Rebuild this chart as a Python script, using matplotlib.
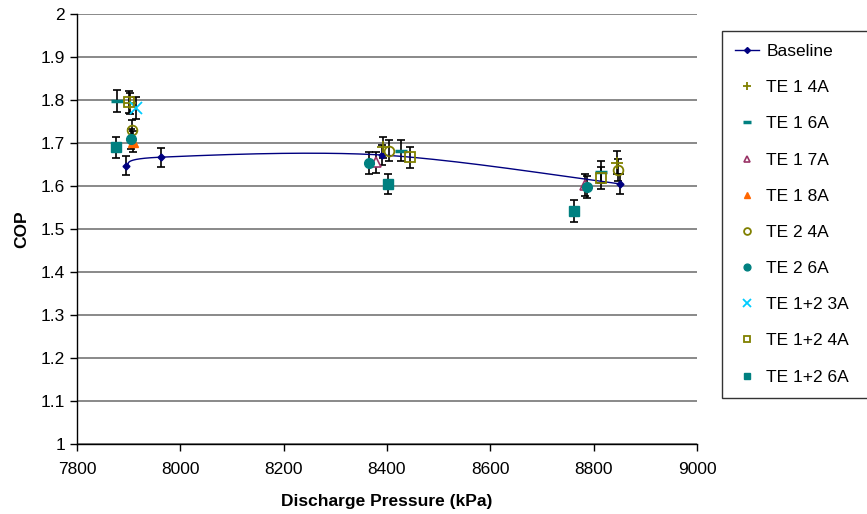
import numpy as np
import matplotlib
matplotlib.use("Agg")
import matplotlib.pyplot as plt
from matplotlib.ticker import FuncFormatter

plt.rcParams['font.family'] = ['Liberation Sans', 'DejaVu Sans']

# ---- data ----
base_x = [7895, 7962, 8391, 8850]
base_y = [1.647, 1.667, 1.672, 1.605]
base_err = [0.022, 0.022, 0.024, 0.023]

te1_4a_x = [7902, 8393, 8846]
te1_4a_y = [1.792, 1.690, 1.654]
te1_4a_err = [0.025, 0.025, 0.027]

te1_6a_x = [7877, 8428, 8814]
te1_6a_y = [1.798, 1.682, 1.633]
te1_6a_err = [0.026, 0.025, 0.025]

te1_7a_x = [8378, 8784]
te1_7a_y = [1.655, 1.602]
te1_7a_err = [0.025, 0.025]

te1_8a_x = [7909]
te1_8a_y = [1.703]
te1_8a_err = [0.025]

te2_4a_x = [7907, 8403, 8848]
te2_4a_y = [1.730, 1.682, 1.637]
te2_4a_err = [0.024, 0.025, 0.025]

te2_6a_x = [7904, 8366, 8788]
te2_6a_y = [1.709, 1.653, 1.598]
te2_6a_err = [0.024, 0.025, 0.025]

te12_3a_x = [7914]
te12_3a_y = [1.782]
te12_3a_err = [0.026]

te12_4a_x = [7901, 8445, 8814]
te12_4a_y = [1.795, 1.667, 1.619]
te12_4a_err = [0.025, 0.024, 0.025]

te12_6a_x = [7875, 8401, 8762]
te12_6a_y = [1.690, 1.605, 1.542]
te12_6a_err = [0.025, 0.024, 0.026]

y_ticks = [1, 1.1, 1.2, 1.3, 1.4, 1.5, 1.6, 1.7, 1.8, 1.9, 2]
x_ticks = [7800, 8000, 8200, 8400, 8600, 8800, 9000]


def smooth(xs, ys, n=60):
    """Excel-like smoothed line through points (Bezier, tension 1/6)."""
    P = np.column_stack([xs, ys]).astype(float)
    out = []
    m = len(P)
    t = np.linspace(0, 1, n)[:, None]
    for i in range(m - 1):
        p0 = P[i - 1] if i > 0 else P[i]
        p1 = P[i]
        p2 = P[i + 1]
        p3 = P[i + 2] if i + 2 < m else P[i + 1]
        c1 = p1 + (p2 - p0) / 6.0
        c2 = p2 - (p3 - p1) / 6.0
        seg = ((1 - t) ** 3) * p1 + 3 * ((1 - t) ** 2) * t * c1 + 3 * (1 - t) * t ** 2 * c2 + t ** 3 * p2
        out.append(seg)
    arr = np.vstack(out)
    return arr[:, 0], arr[:, 1]


fig = plt.figure(figsize=(8.67, 5.14), dpi=100)
ax = fig.add_axes([77 / 867, 70 / 514, 620 / 867, 430 / 514])

ax.set_xlim(7800, 9000)
ax.set_ylim(1, 2)
ax.set_yticks(y_ticks)
ax.set_xticks(x_ticks)
ax.yaxis.set_major_formatter(FuncFormatter(lambda v, p: f"{v:g}"))
ax.grid(axis='y', color='#808080', linewidth=1.3, zorder=0)
ax.set_axisbelow(True)
for s in ['top', 'right']:
    ax.spines[s].set_visible(False)
for s in ['left', 'bottom']:
    ax.spines[s].set_color('black')
    ax.spines[s].set_linewidth(1.0)
ax.tick_params(axis='both', direction='out', length=5, width=1, labelsize=12.5, color='black')
ax.tick_params(axis='x', pad=8)

ax.set_xlabel('Discharge Pressure (kPa)', fontsize=12.5, fontweight='bold', labelpad=12)
ax.set_ylabel('COP', fontsize=12.5, fontweight='bold', labelpad=8)

series = [
    (te1_4a_x, te1_4a_y, te1_4a_err, dict(marker='+', color='#808000', mfc='#808000', mec='#808000', ms=8, mew=1.3), 'TE 1 4A'),
    (te1_6a_x, te1_6a_y, te1_6a_err, dict(marker='_', color='#008080', mfc='#008080', mec='#008080', ms=9, mew=2.5), 'TE 1 6A'),
    (te1_7a_x, te1_7a_y, te1_7a_err, dict(marker='^', color='#993366', mfc='white', mec='#993366', ms=6.5, mew=1.2), 'TE 1 7A'),
    (te1_8a_x, te1_8a_y, te1_8a_err, dict(marker='^', color='#FF6600', mfc='#FF6600', mec='#FF6600', ms=6.5, mew=1.0), 'TE 1 8A'),
    (te2_4a_x, te2_4a_y, te2_4a_err, dict(marker='o', color='#808000', mfc='none', mec='#808000', ms=7, mew=1.3), 'TE 2 4A'),
    (te2_6a_x, te2_6a_y, te2_6a_err, dict(marker='o', color='#008080', mfc='#008080', mec='#008080', ms=7, mew=1.0), 'TE 2 6A'),
    (te12_3a_x, te12_3a_y, te12_3a_err, dict(marker='x', color='#00CCFF', mfc='#00CCFF', mec='#00CCFF', ms=8, mew=1.3), 'TE 1+2 3A'),
    (te12_4a_x, te12_4a_y, te12_4a_err, dict(marker='s', color='#808000', mfc='none', mec='#808000', ms=6.5, mew=1.3), 'TE 1+2 4A'),
    (te12_6a_x, te12_6a_y, te12_6a_err, dict(marker='s', color='#008080', mfc='#008080', mec='#008080', ms=7, mew=1.0), 'TE 1+2 6A'),
]

# error bars
ax.errorbar(base_x, base_y, yerr=base_err, fmt='none', ecolor='black', elinewidth=1.2, capsize=3, capthick=1.2, zorder=2)
for xs, ys, es, st, lab in series:
    ax.errorbar(xs, ys, yerr=es, fmt='none', ecolor='black', elinewidth=1.2, capsize=3, capthick=1.2, zorder=2)

# baseline smooth line
sx, sy = smooth(base_x, base_y)
ax.plot(sx, sy, color='#000080', linewidth=1.0, zorder=3)
ax.plot(base_x, base_y, linestyle='none', marker='D', ms=3.5, color='#000080', zorder=4)

handles = []
hb, = ax.plot([], [], color='#000080', linewidth=1.0, marker='D', ms=3, label='Baseline')
handles.append(hb)
for xs, ys, es, st, lab in series:
    ax.plot(xs, ys, linestyle='none', zorder=5, **st)
    st2 = dict(st)
    st2['ms'] = st['ms'] * 0.7
    h, = ax.plot([], [], linestyle='none', label=lab, **st2)
    handles.append(h)

leg = fig.legend(handles=handles, loc='upper left',
                 bbox_to_anchor=(722 / 867, (514 - 392) / 514, 160 / 867, 361 / 514),
                 bbox_transform=fig.transFigure, mode='expand',
                 fontsize=12.5, frameon=True, fancybox=False, edgecolor='black',
                 handlelength=1.4, handletextpad=0.4, labelspacing=1.21,
                 borderpad=0.75, borderaxespad=0)
leg.get_frame().set_linewidth(1.0)

fig.savefig('out.png', dpi=100)
